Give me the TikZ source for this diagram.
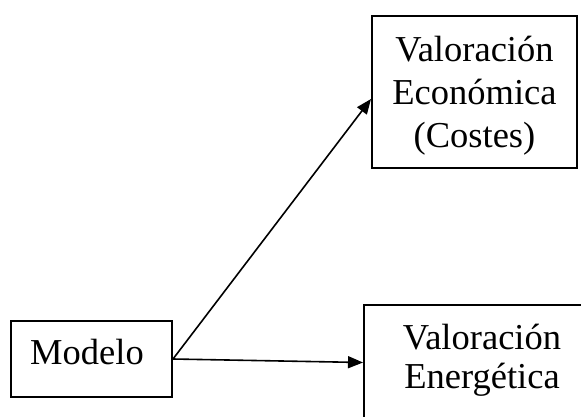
\documentclass[tikz,border=0pt]{standalone}
\usepackage{fontspec}
\setmainfont{Liberation Serif}
\usetikzlibrary{arrows.meta}
\tikzset{
  box/.style={draw=black, line width=2pt, fill=none, inner sep=0pt},
  lbl/.style={align=center, inner sep=0pt, text=black},
  conn/.style={line width=1.6pt, -{Triangle[length=15pt,width=12pt]}}
}
\begin{document}
\begin{tikzpicture}[x=1pt,y=-1pt]
  \useasboundingbox (0,0) rectangle (581,416);
  \clip (0,0) rectangle (581,416);
  % boxes
  \node[box, minimum width=205pt, minimum height=152pt] (econ) at (474.5,92) {};
  \node[box, minimum width=161pt, minimum height=76pt] (modelo) at (91.5,359) {};
  \node[box, minimum width=236pt, minimum height=115pt] (energ) at (482,362.5) {};
  % labels
  \node[lbl, font=\fontsize{36.5}{43}\selectfont] (econtxt) at (474.5,96) {Valoración\\Económica\\(Costes)};
  \node[lbl, font=\fontsize{36.5}{39}\selectfont] (modelotxt) at (87,352) {Modelo};
  \node[lbl, font=\fontsize{36.5}{39}\selectfont] (energtxt) at (482,360) {Valoración\\Energética};
  % connectors
  \coordinate (econin) at ([yshift=-7pt]econ.west);
  \draw[conn] (modelo.east) -- (econin);
  \draw[conn] (modelo.east) -- (energ.west);
\end{tikzpicture}
\end{document}
